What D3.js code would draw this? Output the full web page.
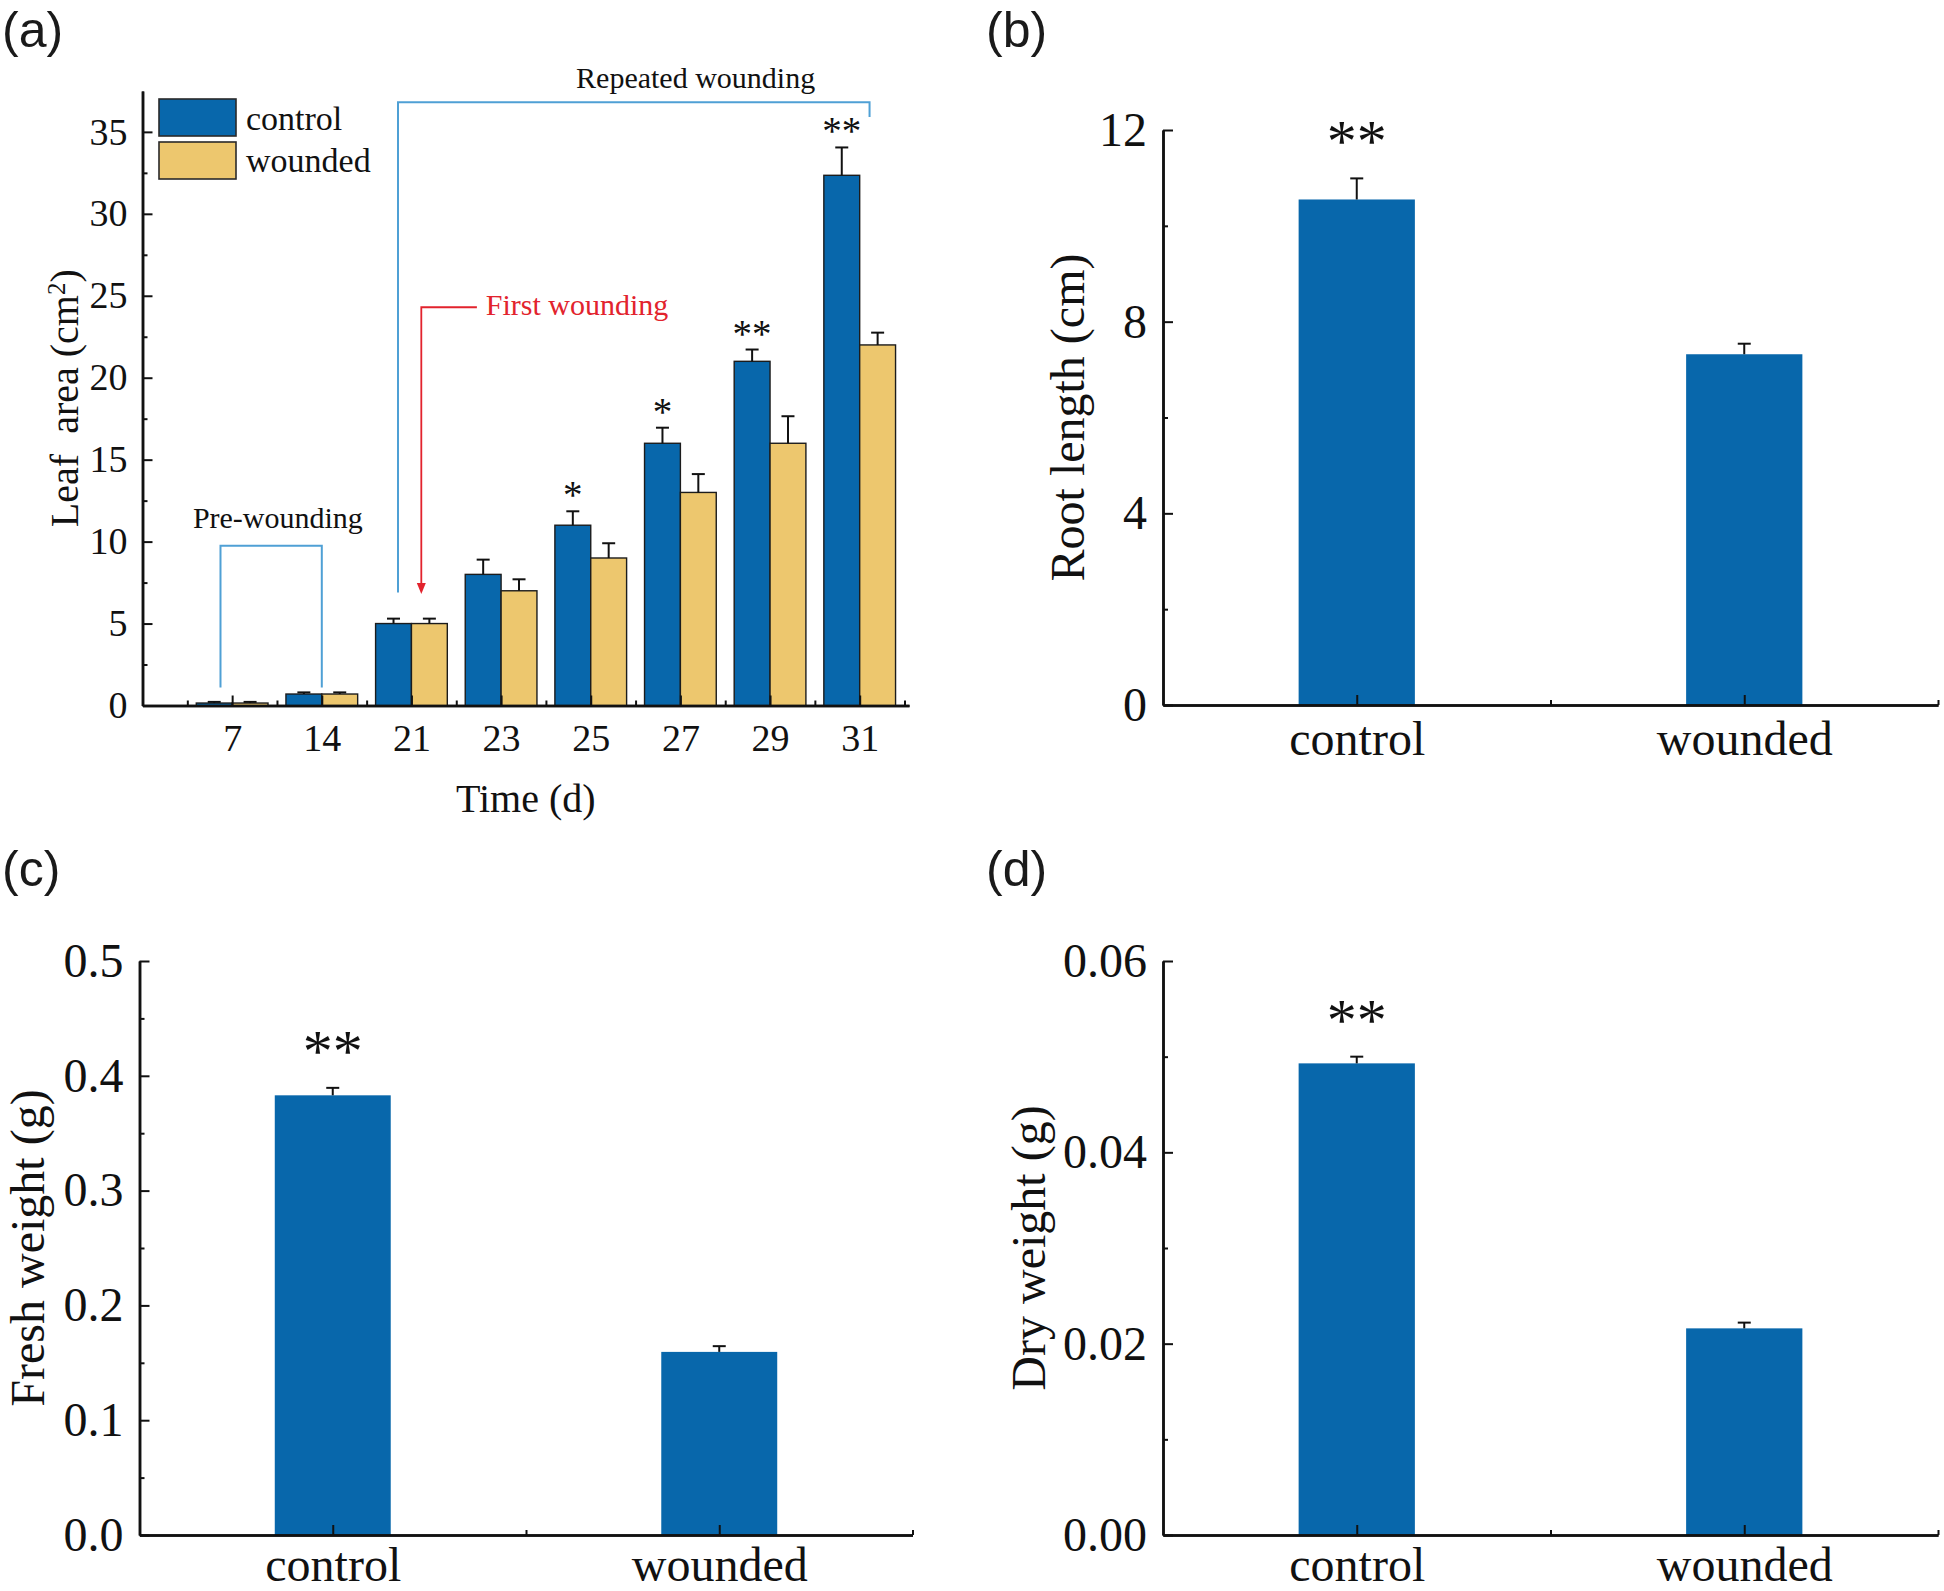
<!DOCTYPE html>
<html>
<head>
<meta charset="utf-8">
<script src="https://cdn.jsdelivr.net/npm/d3@7"></script>
<style>
  html, body { margin: 0; padding: 0; background: #fff; }
  svg { display: block; }
  text { font-family: "Liberation Serif", "Times New Roman", serif; fill: #111; }
</style>
</head>
<body>
<svg id="chart" width="1944" height="1591"></svg>
<script>
// ---------------- DATA ----------------
// Panel (a): leaf area over time
const days = ["7", "14", "21", "23", "25", "27", "29", "31"];
const controlArea    = [0.15, 0.70, 5.0, 8.0, 11.0, 16.0, 21.0, 32.35];
const controlAreaErr = [0.07, 0.10, 0.3, 0.9, 0.85, 0.95, 0.72, 1.7];
const woundedArea    = [0.15, 0.70, 5.0, 7.0, 9.0, 13.0, 16.0, 22.0];
const woundedAreaErr = [0.07, 0.10, 0.3, 0.7, 0.9, 1.12, 1.65, 0.75];
const areaSignif     = ["", "", "", "", "*", "*", "**", "**"];
const areaTicks      = [0, 5, 10, 15, 20, 25, 30, 35];

// Panels (b)-(d): control vs wounded
const groups = ["control", "wounded"];
const rootLength     = [10.55, 7.32];
const rootLengthErr  = [0.44, 0.22];
const freshWeight    = [0.383, 0.1595];
const freshWeightErr = [0.0065, 0.005];
const dryWeight      = [0.0493, 0.0216];
const dryWeightErr   = [0.0007, 0.0006];
const groupSignif    = ["**", ""];
const rootTicks  = [0, 4, 8, 12];
const freshTicks = [0, 0.1, 0.2, 0.3, 0.4, 0.5];
const dryTicks   = [0, 0.02, 0.04, 0.06];

// Annotation anchors in panel (a) data units (category index, leaf area)
const preBracket    = { x0: 0.87, x1: 2.0, top: 9.75, bottom: 1.1, labelX: 1.51, labelY: 10.8, label: "Pre-wounding" };
const repeatBracket = { x0: 2.85, x1: 8.11, top: 36.8, leftBottom: 6.9, rightBottom: 35.9, labelX: 6.17, labelY: 37.7, label: "Repeated wounding" };
const firstArrow    = { x: 3.11, tip: 6.8, top: 24.3, xEnd: 3.73, labelX: 3.83, labelY: 23.8, label: "First wounding" };

// ---------------- STYLE ----------------
const BLUE = "#0867AB", GOLD = "#EDC76E", BRACKET = "#4FA0D5", RED = "#E2232D";
const svg = d3.select("#chart");

function styleAxis(g, fontSize) {
  g.select(".domain").attr("stroke", "#111").attr("stroke-width", 2.5);
  g.selectAll(".tick line").attr("stroke", "#111").attr("stroke-width", 2);
  g.selectAll(".tick text").attr("font-family", "Liberation Serif, Times New Roman, serif")
    .attr("font-size", fontSize).attr("fill", "#111");
}

// ---------------- PANEL (a) ----------------
(function () {
  const x = d3.scaleLinear().domain([0, 8.55]).range([142.5, 909]);
  const y = d3.scaleLinear().domain([0, 37.5]).range([705.5, 90.9]);
  const g = svg.append("g");
  const bw = 0.4;

  // minor ticks
  g.append("g").attr("transform", `translate(0,${y(0)})`)
    .call(d3.axisBottom(x).tickValues(d3.range(0.5, 8.6, 1)).tickSize(-5).tickFormat("").tickSizeOuter(0))
    .call(a => styleAxis(a, 38));
  g.append("g").attr("transform", `translate(${x(0)},0)`)
    .call(d3.axisLeft(y).tickValues(d3.range(2.5, 37.5, 5)).tickSize(-5).tickFormat("").tickSizeOuter(0))
    .call(a => styleAxis(a, 38));

  // bars
  const idx = d3.range(days.length);
  g.selectAll(".barC").data(idx).join("rect")
    .attr("x", i => x(i + 1 - bw)).attr("width", x(bw) - x(0))
    .attr("y", i => y(controlArea[i])).attr("height", i => y(0) - y(controlArea[i]))
    .attr("fill", BLUE).attr("stroke", "#1c1c1c").attr("stroke-width", 1.4);
  g.selectAll(".barW").data(idx).join("rect")
    .attr("x", i => x(i + 1)).attr("width", x(bw) - x(0))
    .attr("y", i => y(woundedArea[i])).attr("height", i => y(0) - y(woundedArea[i]))
    .attr("fill", GOLD).attr("stroke", "#1c1c1c").attr("stroke-width", 1.4);

  // error bars
  function err(vals, errs, off) {
    idx.forEach(i => {
      const cx = x(i + 1 + off);
      const y0 = y(vals[i]), y1 = y(vals[i] + errs[i]);
      g.append("line").attr("x1", cx).attr("x2", cx).attr("y1", y0).attr("y2", y1)
        .attr("stroke", "#111").attr("stroke-width", 2);
      g.append("line").attr("x1", cx - 6.5).attr("x2", cx + 6.5).attr("y1", y1).attr("y2", y1)
        .attr("stroke", "#111").attr("stroke-width", 2);
    });
  }
  err(controlArea, controlAreaErr, -bw / 2);
  err(woundedArea, woundedAreaErr, bw / 2);

  // significance
  g.selectAll(".sig").data(idx.filter(i => areaSignif[i])).join("text")
    .attr("x", i => x(i + 1 - bw / 2)).attr("y", i => y(controlArea[i] + controlAreaErr[i]) - 3)
    .attr("text-anchor", "middle").attr("font-size", 39).text(i => areaSignif[i]);

  // axes (major)
  g.append("g").attr("transform", `translate(0,${y(0)})`)
    .call(d3.axisBottom(x).tickValues(d3.range(1, 9)).tickFormat(i => days[i - 1]).tickSize(-10).tickPadding(19).tickSizeOuter(0))
    .call(a => styleAxis(a, 38));
  g.append("g").attr("transform", `translate(${x(0)},0)`)
    .call(d3.axisLeft(y).tickValues(areaTicks).tickSize(-10).tickPadding(15).tickSizeOuter(0))
    .call(a => styleAxis(a, 38));

  // axis titles
  g.append("text").attr("x", (x.range()[0] + x.range()[1]) / 2).attr("y", 812)
    .attr("text-anchor", "middle").attr("font-size", 40).text("Time (d)");
  const yt = g.append("text").attr("transform", `translate(78,${(y.range()[0] + y.range()[1]) / 2}) rotate(-90)`)
    .attr("text-anchor", "middle").attr("font-size", 40);
  yt.append("tspan").text("Leaf");
  yt.append("tspan").attr("dx", 10).text(" area (cm");
  yt.append("tspan").attr("baseline-shift", "super").attr("font-size", 25).text("2");
  yt.append("tspan").text(")");

  // legend
  const lg = g.append("g");
  [["control", BLUE], ["wounded", GOLD]].forEach((d, k) => {
    lg.append("rect").attr("x", 159).attr("y", 99 + k * 43).attr("width", 77).attr("height", 37)
      .attr("fill", d[1]).attr("stroke", "#2a2a2a").attr("stroke-width", 1.6);
    lg.append("text").attr("x", 246).attr("y", 130 + k * 42).attr("font-size", 34).text(d[0]);
  });

  // pre-wounding bracket
  g.append("path").attr("fill", "none").attr("stroke", BRACKET).attr("stroke-width", 2)
    .attr("d", `M${x(preBracket.x0)},${y(preBracket.bottom)}V${y(preBracket.top)}H${x(preBracket.x1)}V${y(preBracket.bottom)}`);
  g.append("text").attr("x", x(preBracket.labelX)).attr("y", y(preBracket.labelY))
    .attr("text-anchor", "middle").attr("font-size", 30).text(preBracket.label);

  // repeated wounding bracket
  g.append("path").attr("fill", "none").attr("stroke", BRACKET).attr("stroke-width", 2)
    .attr("d", `M${x(repeatBracket.x0)},${y(repeatBracket.leftBottom)}V${y(repeatBracket.top)}H${x(repeatBracket.x1)}V${y(repeatBracket.rightBottom)}`);
  g.append("text").attr("x", x(repeatBracket.labelX)).attr("y", y(repeatBracket.labelY))
    .attr("text-anchor", "middle").attr("font-size", 30).text(repeatBracket.label);

  // first wounding arrow
  const ax = x(firstArrow.x), tipY = y(firstArrow.tip);
  g.append("path").attr("fill", "none").attr("stroke", RED).attr("stroke-width", 1.8)
    .attr("d", `M${x(firstArrow.xEnd)},${y(firstArrow.top)}H${ax}V${tipY - 8}`);
  g.append("path").attr("fill", RED)
    .attr("d", `M${ax - 4.5},${tipY - 11}L${ax + 4.5},${tipY - 11}L${ax},${tipY}Z`);
  g.append("text").attr("x", x(firstArrow.labelX)).attr("y", y(firstArrow.labelY))
    .attr("font-size", 30).style("fill", RED).text(firstArrow.label);

  svg.append("text").attr("x", 2).attr("y", 47).attr("font-size", 50)
    .style("font-family", "Liberation Sans, Arial, sans-serif").style("fill", "#1a1a1a").text("(a)");
})();

// ---------------- PANELS (b)-(d) ----------------
function groupPanel(opts) {
  const { x0, x1, yBottom, yTop, domainMax, values, errs, ticks, minor, fmt, title, titleX, label, labelX, labelY, xPad } = opts;
  const x = d3.scaleLinear().domain([0.5, 2.5]).range([x0, x1]);
  const y = d3.scaleLinear().domain([0, domainMax]).range([yBottom, yTop]);
  const g = svg.append("g");
  const bw = 0.3;

  g.selectAll(".bar").data(values).join("rect")
    .attr("x", (d, i) => x(i + 1 - bw / 2)).attr("width", x(bw) - x(0))
    .attr("y", d => y(d)).attr("height", d => y(0) - y(d))
    .attr("fill", BLUE);

  values.forEach((v, i) => {
    const cx = x(i + 1), y0 = y(v), y1 = y(v + errs[i]);
    g.append("line").attr("x1", cx).attr("x2", cx).attr("y1", y0).attr("y2", y1).attr("stroke", "#111").attr("stroke-width", 2);
    g.append("line").attr("x1", cx - 6.5).attr("x2", cx + 6.5).attr("y1", y1).attr("y2", y1).attr("stroke", "#111").attr("stroke-width", 2);
    if (groupSignif[i]) {
      g.append("text").attr("x", cx).attr("y", y1 - 17).attr("text-anchor", "middle")
        .attr("font-size", 60).text(groupSignif[i]);
    }
  });

  // minor ticks
  g.append("g").attr("transform", `translate(0,${yBottom})`)
    .call(d3.axisBottom(x).tickValues([1.5, 2.5]).tickSize(-5).tickFormat("").tickSizeOuter(0))
    .call(a => styleAxis(a, 48));
  g.append("g").attr("transform", `translate(${x0},0)`)
    .call(d3.axisLeft(y).tickValues(minor).tickSize(-5).tickFormat("").tickSizeOuter(0))
    .call(a => styleAxis(a, 48));
  // major
  g.append("g").attr("transform", `translate(0,${yBottom})`)
    .call(d3.axisBottom(x).tickValues([1, 2]).tickFormat(i => groups[i - 1]).tickSize(-10).tickPadding(xPad).tickSizeOuter(0))
    .call(a => styleAxis(a, 48));
  g.append("g").attr("transform", `translate(${x0},0)`)
    .call(d3.axisLeft(y).tickValues(ticks).tickFormat(fmt).tickSize(-10).tickPadding(16).tickSizeOuter(0))
    .call(a => styleAxis(a, 48));

  g.append("text").attr("transform", `translate(${titleX},${(yBottom + yTop) / 2}) rotate(-90)`)
    .attr("text-anchor", "middle").attr("font-size", 48).text(title);

  svg.append("text").attr("x", labelX).attr("y", labelY).attr("font-size", 50)
    .style("font-family", "Liberation Sans, Arial, sans-serif").style("fill", "#1a1a1a").text(label);
}

groupPanel({ x0: 1163, x1: 1938, yBottom: 705, yTop: 130, domainMax: 12, values: rootLength, errs: rootLengthErr,
  ticks: rootTicks, minor: [2, 6, 10], fmt: d3.format("d"), title: "Root length (cm)", titleX: 1084,
  label: "(b)", labelX: 986, labelY: 47, xPad: 16 });
groupPanel({ x0: 139.5, x1: 912.5, yBottom: 1535, yTop: 961, domainMax: 0.5, values: freshWeight, errs: freshWeightErr,
  ticks: freshTicks, minor: [0.05, 0.15, 0.25, 0.35, 0.45], fmt: d3.format(".1f"), title: "Fresh weight (g)", titleX: 44,
  label: "(c)", labelX: 2, labelY: 886, xPad: 12 });
groupPanel({ x0: 1163, x1: 1938, yBottom: 1535, yTop: 961, domainMax: 0.06, values: dryWeight, errs: dryWeightErr,
  ticks: dryTicks, minor: [0.01, 0.03, 0.05], fmt: d3.format(".2f"), title: "Dry weight (g)", titleX: 1045,
  label: "(d)", labelX: 986, labelY: 886, xPad: 12 });
</script>
</body>
</html>
